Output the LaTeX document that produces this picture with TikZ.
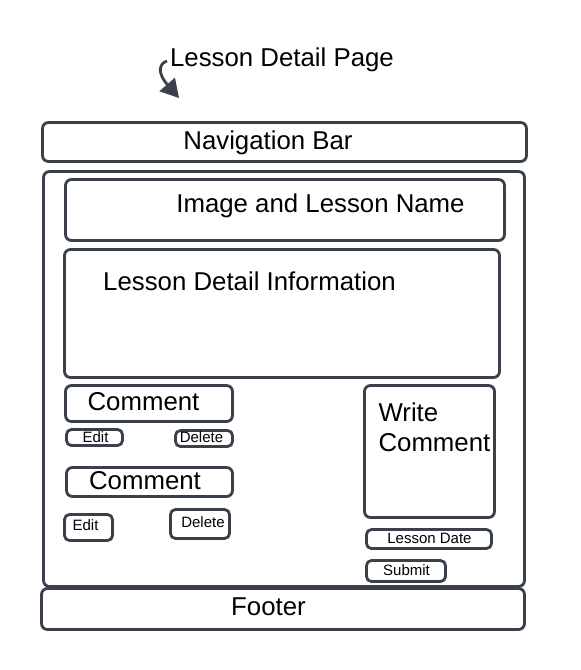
\documentclass[tikz,border=0pt]{standalone}
\usepackage{fontspec}
\setmainfont{Liberation Sans}
\usetikzlibrary{arrows.meta}
\definecolor{edgegray}{HTML}{3B414B}

\begin{document}
\begin{tikzpicture}[x=1pt,y=-1pt,
        frame/.style = {draw=edgegray, line width=2.8pt, rounded corners=6pt,
                        inner sep=0pt, outer sep=0pt},
        btn/.style = {frame, rounded corners=5pt},
        big/.style = {anchor=base, font=\fontsize{25.8}{30}\selectfont},
        small/.style = {anchor=base, font=\fontsize{15}{18}\selectfont},
        pointer/.style = {draw=edgegray, line width=2.8pt,
                          -{Triangle[length=18pt,width=20pt]}}]
                \useasboundingbox (0,0) rectangle (581,670);

                % page title and its arrow
                \node[big] (title) at (282,66) {Lesson Detail Page};
                \coordinate (arrstart) at (167,61);
                \coordinate (arrend) at (179,98);
                \draw[pointer] (arrstart) .. controls (158,64) and (158,74) .. (arrend);

                % outer frames
                \node[frame, minimum width=484pt, minimum height=39pt]
                    (nav) at (284.5,142) {};
                \node[big] (navtext) at (268,149) {Navigation Bar};
                \node[frame, minimum width=481pt, minimum height=415pt]
                    (main) at (284,379) {};
                \node[frame, minimum width=483pt, minimum height=41pt]
                    (footer) at (283,609) {};
                \node[big] (footertext) at (268.5,615) {Footer};

                % lesson blocks
                \node[frame, minimum width=439pt, minimum height=61pt]
                    (image) at (285,210) {};
                \node[big] (imagetext) at (320.5,212) {Image and Lesson Name};
                \node[frame, minimum width=435pt, minimum height=128pt]
                    (info) at (282,313.5) {};
                \node[big] (infotext) at (249.5,290) {Lesson Detail Information};

                % comments
                \node[frame, minimum width=167pt, minimum height=36pt]
                    (comment1) at (149,403.5) {};
                \node[big] (comment1text) at (143.5,410) {Comment};
                \node[btn, minimum width=56pt, minimum height=16pt]
                    (edit1) at (94.5,437.5) {};
                \node[small] (edit1text) at (95.5,442) {Edit};
                \node[btn, minimum width=57pt, minimum height=16pt]
                    (delete1) at (204,438.5) {};
                \node[small] (delete1text) at (201.5,442) {Delete};

                \node[frame, minimum width=166pt, minimum height=29pt]
                    (comment2) at (149.5,482) {};
                \node[big] (comment2text) at (145,489) {Comment};
                \node[btn, minimum width=48pt, minimum height=26pt]
                    (edit2) at (88.5,527.5) {};
                \node[small] (edit2text) at (85.5,530) {Edit};
                \node[btn, minimum width=59pt, minimum height=29pt]
                    (delete2) at (200,524) {};
                \node[small] (delete2text) at (203,527) {Delete};

                % comment form
                \node[frame, minimum width=130pt, minimum height=132pt]
                    (write) at (429.5,451.5) {};
                \node[big, anchor=base west] (writetext) at (375,421) {Write};
                \node[big, anchor=base west] (writetext2) at (375,451) {Comment};
                \node[btn, minimum width=125pt, minimum height=19pt]
                    (date) at (429,539) {};
                \node[small] (datetext) at (429.5,543) {Lesson Date};
                \node[btn, minimum width=79pt, minimum height=21pt]
                    (submit) at (406,571) {};
                \node[small] (submittext) at (406.5,575) {Submit};
            \end{tikzpicture}
\end{document}
